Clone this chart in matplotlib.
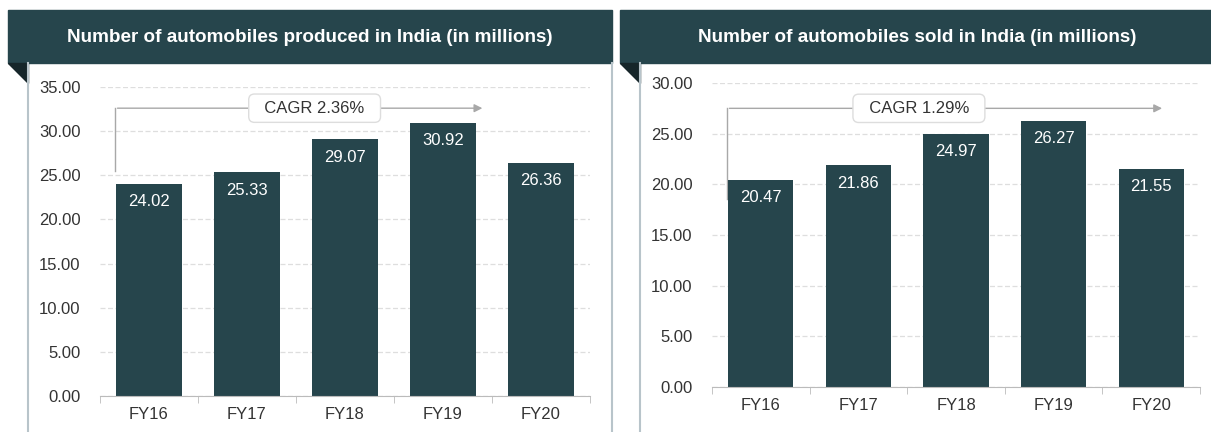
import matplotlib.pyplot as plt
from matplotlib.patches import Rectangle, Polygon

plt.rcParams['font.family'] = ['Liberation Sans', 'DejaVu Sans']

years = ['FY16', 'FY17', 'FY18', 'FY19', 'FY20']
produced = [24.02, 25.33, 29.07, 30.92, 26.36]
sold = [20.47, 21.86, 24.97, 26.27, 21.55]
cagr_produced = 'CAGR 2.36%'
cagr_sold = 'CAGR 1.29%'

DARK = '#26454c'
W, H = 1211, 432

fig = plt.figure(figsize=(W / 100, H / 100), dpi=100)


def px(x0, y0, x1, y1):
    # pixel box (top-left origin) -> figure fraction rect
    return [x0 / W, 1 - y1 / H, (x1 - x0) / W, (y1 - y0) / H]


def panel(x0, x1, title):
    fig.patches.append(Rectangle((x0 / W, 1 - 63 / H), (x1 - x0) / W, 53 / H,
                                 transform=fig.transFigure, color=DARK, zorder=0))
    fig.patches.append(Polygon([(x0 / W, 1 - 63 / H), ((x0 + 20) / W, 1 - 63 / H),
                                ((x0 + 20) / W, 1 - 83 / H)],
                               transform=fig.transFigure, color='#16262a', zorder=0))
    fig.text((x0 + x1) / 2 / W, 1 - 37 / H, title, color='white', fontsize=13.6,
             fontweight='bold', ha='center', va='center')
    for xb in (x0 + 20, x1):
        fig.add_artist(plt.Line2D([xb / W, xb / W], [0, 1 - 63 / H],
                                  transform=fig.transFigure, color='#b8c4ca', lw=1.5))


def bars(ax, values, ymax, step, cagr, box_x, y_start, y_line, x_end):
    ax.bar(range(len(years)), values, width=0.67, color=DARK, zorder=2)
    ax.set_xlim(-0.5, 4.5)
    ax.set_ylim(0, ymax)
    n = int(ymax / step) + 1
    ax.set_yticks([i * step for i in range(n)])
    ax.set_yticklabels([f'{i * step:.2f}' for i in range(n)])
    ax.set_xticks(range(len(years)))
    ax.set_xticklabels(years)
    ax.set_xticks([i - 0.5 for i in range(len(years) + 1)], minor=True)
    ax.tick_params(axis='x', which='major', length=0, pad=8, labelsize=12, colors='#333333')
    ax.tick_params(axis='x', which='minor', length=5, color='#bbbbbb')
    ax.tick_params(axis='y', length=0, pad=14, labelsize=12, colors='#333333')
    for s in ['top', 'right', 'left']:
        ax.spines[s].set_visible(False)
    ax.spines['bottom'].set_color('#bbbbbb')
    ax.yaxis.grid(True, color='#dedede', ls=(0, (4, 2)), lw=0.9, zorder=0)
    ax.set_axisbelow(True)
    for i, v in enumerate(values):
        ax.text(i, v - ymax * 0.033, f'{v:.2f}', color='white', fontsize=12,
                ha='center', va='top', zorder=3)
    ax.plot([-0.35, -0.35], [y_start, y_line], color='#a8a8a8', lw=1, zorder=1)
    ax.annotate('', xy=(x_end, y_line), xytext=(-0.35, y_line),
                arrowprops=dict(arrowstyle='-|>', color='#a8a8a8', lw=1,
                                mutation_scale=12), zorder=1)
    ax.text(box_x, y_line, '  ' + cagr + '  ', fontsize=12, color='#333333',
            ha='center', va='center', zorder=4,
            bbox=dict(boxstyle='round,pad=0.4,rounding_size=0.35',
                      fc='white', ec='#dddddd', lw=1))


panel(8, 612, 'Number of automobiles produced in India (in millions)')
panel(620, 1215, 'Number of automobiles sold in India (in millions)')

ax1 = fig.add_axes(px(100, 87, 590, 396))
bars(ax1, produced, 35, 5, cagr_produced, 1.69, 25.5, 32.6, 3.43)

ax2 = fig.add_axes(px(712, 83, 1200, 387))
bars(ax2, sold, 30, 5, cagr_sold, 1.62, 18.6, 27.5, 4.14)

fig.savefig('out.png', dpi=100)
